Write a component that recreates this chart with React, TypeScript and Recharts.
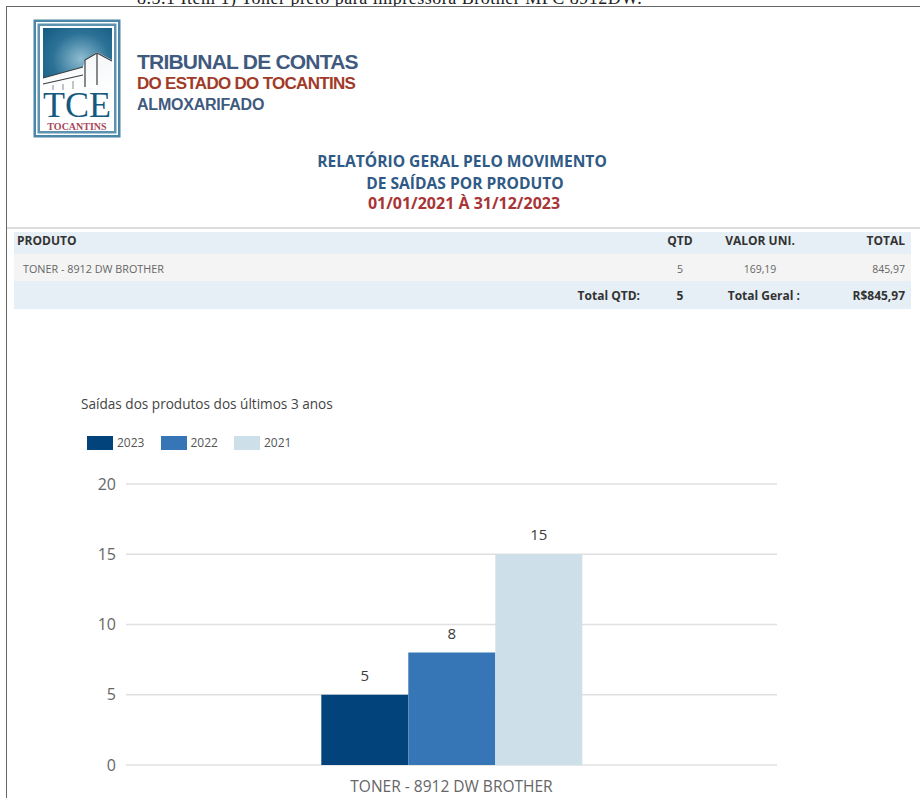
import { Bar, BarChart, CartesianGrid, LabelList, Legend, XAxis, YAxis } from 'recharts';

const categories = ['TONER - 8912 DW BROTHER'];
const saidas2023 = [5];
const saidas2022 = [8];
const saidas2021 = [15];
const yTicks = [0, 5, 10, 15, 20];

const chartData = categories.map((name, i) => ({
  name,
  '2023': saidas2023[i],
  '2022': saidas2022[i],
  '2021': saidas2021[i],
}));

const SANS = '"Open Sans", sans-serif';
const BLUE_TITLE = '#2f5a86';
const RED_TITLE = '#a93436';

// posicionamento absoluto: o relatório é uma página fixa
function Txt({ x, y, w, align = 'left', size, color, weight = 400, font = SANS, spacing = 0, children }: any) {
  return (
    <div style={{
      position: 'absolute', left: x, top: y, width: w, textAlign: align, fontSize: size, color,
      fontWeight: weight, fontFamily: font, letterSpacing: spacing, lineHeight: '20px', whiteSpace: 'nowrap',
    }}>
      {children}
    </div>
  );
}

function Logo() {
  return (
    <svg width={88} height={120} style={{ position: 'absolute', left: 33, top: 19 }}>
      <defs>
        <radialGradient id="ceu" cx="55%" cy="50%" r="75%">
          <stop offset="0%" stopColor="#8fbdd0" />
          <stop offset="55%" stopColor="#2c7297" />
          <stop offset="100%" stopColor="#125a80" />
        </radialGradient>
        <linearGradient id="predio" x1="0" y1="0" x2="0" y2="1">
          <stop offset="0%" stopColor="#f4f6f7" />
          <stop offset="100%" stopColor="#ffffff" />
        </linearGradient>
      </defs>
      <rect x={0.5} y={0.5} width={87} height={118} fill="#4a86a8" />
      <rect x={3} y={3} width={82} height={113} fill="#fff" />
      <rect x={4.5} y={4.5} width={79} height={110} fill="#5d93b1" />
      <rect x={7} y={7} width={74} height={105} fill="#fff" />
      <rect x={10} y={9} width={69} height={62} fill="url(#ceu)" />
      <path d="M10 59 L50 48 L52 41 L64 33 L79 41 L79 75 L10 75 Z" fill="url(#predio)" />
      <path d="M10 59 L50 48 M10 65 L50 56 M52 68 L52 41 L64 34 L79 42 M64 35 L64 66" stroke="#3a3f45" strokeWidth={1.2} fill="none" />
      <path d="M20 66 L20 71 M30 65 L30 71 M40 62 L40 70" stroke="#9aa0a6" strokeWidth={1.2} />
      <text x={44} y={98} textAnchor="middle" fontFamily="Liberation Serif" fontSize={36} fill="#14597f">TCE</text>
      <text x={44} y={111} textAnchor="middle" fontFamily="Liberation Serif" fontWeight={700} fontSize={10} fill="#a8465a">TOCANTINS</text>
    </svg>
  );
}

function Cabecalho() {
  return (
    <>
      <div style={{ position: 'absolute', left: 0, top: 0, width: 920, height: 6, overflow: 'hidden' }}>
        <Txt x={137} y={-12} size={18} color="#222" font='"Liberation Serif", serif' spacing={0.5}>
          8.5.1 Item 1) Toner preto para impressora Brother MFC 8912DW.
        </Txt>
      </div>
      <div style={{ position: 'absolute', left: 6, top: 6, width: 914, height: 1, background: '#666' }} />
      <div style={{ position: 'absolute', left: 6, top: 6, width: 1, height: 792, background: '#666' }} />
      <div style={{ position: 'absolute', left: 7, top: 227, width: 913, height: 2, background: '#dcdcdc' }} />
      <Logo />
      <Txt x={137} y={52} size={21} weight={700} color="#3f5a7e" font="Liberation Sans" spacing={-0.78}>TRIBUNAL DE CONTAS</Txt>
      <Txt x={137} y={74} size={17} weight={700} color="#a23a28" font="Liberation Sans" spacing={-0.7}>DO ESTADO DO TOCANTINS</Txt>
      <Txt x={137} y={95} size={16} weight={700} color="#3f5a7e" font="Liberation Sans" spacing={-0.22}>ALMOXARIFADO</Txt>
      <Txt x={162} y={151} w={600} align="center" size={15.6} weight={700} color={BLUE_TITLE}>RELATÓRIO GERAL PELO MOVIMENTO</Txt>
      <Txt x={165} y={173} w={600} align="center" size={15.6} weight={700} color={BLUE_TITLE}>DE SAÍDAS POR PRODUTO</Txt>
      <Txt x={164} y={193} w={600} align="center" size={16} weight={700} color={RED_TITLE}>01/01/2021 À 31/12/2023</Txt>
    </>
  );
}

function Tabela() {
  const bold = { size: 12, weight: 700, color: '#333' };
  const leve = { size: 10.5, color: '#666' };
  return (
    <>
      <div style={{ position: 'absolute', left: 14, top: 232, width: 897, height: 22, background: '#e6eff5' }} />
      <div style={{ position: 'absolute', left: 14, top: 254, width: 897, height: 27, background: '#f4f4f4' }} />
      <div style={{ position: 'absolute', left: 14, top: 281, width: 897, height: 28, background: '#e6eff5' }} />
      <Txt x={17} y={231} {...bold}>PRODUTO</Txt>
      <Txt x={650} y={231} w={60} align="center" {...bold}>QTD</Txt>
      <Txt x={710} y={231} w={100} align="center" {...bold}>VALOR UNI.</Txt>
      <Txt x={805} y={231} w={100} align="right" {...bold}>TOTAL</Txt>
      <Txt x={23} y={259} size={10.8} color="#666">TONER - 8912 DW BROTHER</Txt>
      <Txt x={650} y={259} w={60} align="center" {...leve}>5</Txt>
      <Txt x={710} y={259} w={100} align="center" {...leve}>169,19</Txt>
      <Txt x={805} y={259} w={100} align="right" {...leve}>845,97</Txt>
      <Txt x={500} y={286} w={140} align="right" {...bold}>Total QTD:</Txt>
      <Txt x={650} y={286} w={60} align="center" {...bold}>5</Txt>
      <Txt x={700} y={286} w={100} align="right" {...bold}>Total Geral :</Txt>
      <Txt x={805} y={286} w={100} align="right" {...bold}>R$845,97</Txt>
    </>
  );
}

// legenda com retângulos largos, como no relatório original
function Legenda({ payload }: any) {
  return (
    <div style={{ display: 'flex', fontFamily: SANS, fontSize: 12, color: '#555' }}>
      {(payload ?? []).map((item: any) => (
        <div key={item.value} style={{ display: 'flex', alignItems: 'center', width: 73.5 }}>
          <span style={{ width: 26, height: 14, background: item.color, marginRight: 4 }} />
          {item.value}
        </div>
      ))}
    </div>
  );
}

export default function App() {
  const rotulo = { position: 'top' as const, offset: 14, fill: '#3a3a3a', fontSize: 15, fontFamily: SANS };
  return (
    <div style={{ position: 'absolute', left: 0, top: 0, width: 920, height: 798, overflow: 'hidden', background: '#fff' }}>
      <Cabecalho />
      <Tabela />
      <Txt x={81} y={394} size={13.6} color="#444">Saídas dos produtos dos últimos 3 anos</Txt>
      <div style={{ position: 'absolute', left: 0, top: 0 }}>
        <BarChart
          width={920}
          height={798}
          data={chartData}
          margin={{ top: 467, right: 143, bottom: 0, left: 86 }}
          barCategoryGap="30%"
          barGap={0}
        >
          <CartesianGrid vertical={false} stroke="#e0e0e0" strokeWidth={1.5} />
          <XAxis
            dataKey="name"
            height={33}
            axisLine={false}
            tickLine={false}
            tick={{ fill: '#666', fontSize: 15.5, fontFamily: SANS }}
            tickMargin={10}
          />
          <YAxis
            width={40}
            domain={[0, 20]}
            ticks={yTicks}
            axisLine={false}
            tickLine={false}
            tick={{ fill: '#666', fontSize: 16, fontFamily: SANS }}
            tickMargin={4}
          />
          <Legend
            content={<Legenda />}
            layout="horizontal"
            verticalAlign="top"
            align="left"
            itemSorter={(item: any) => -Number(item.value)}
            wrapperStyle={{ position: 'absolute', left: 87, top: 434, width: 260 }}
          />
          <Bar dataKey="2023" fill="#03437b" isAnimationActive={false}>
            <LabelList dataKey="2023" {...rotulo} />
          </Bar>
          <Bar dataKey="2022" fill="#3776b6" isAnimationActive={false}>
            <LabelList dataKey="2022" {...rotulo} />
          </Bar>
          <Bar dataKey="2021" fill="#cde0ea" isAnimationActive={false}>
            <LabelList dataKey="2021" {...rotulo} />
          </Bar>
        </BarChart>
      </div>
    </div>
  );
}
